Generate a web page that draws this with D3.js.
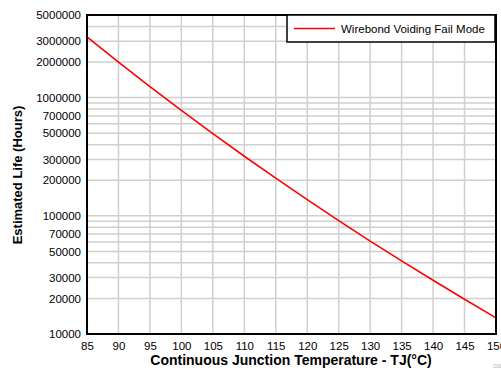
<!DOCTYPE html>
<html>
<head>
<meta charset="utf-8">
<script src="https://cdn.jsdelivr.net/npm/d3@7"></script>
<style>
  html, body { margin: 0; padding: 0; background: #fff; }
  svg { display: block; font-family: "Liberation Sans", Arial, Helvetica, sans-serif; }
</style>
</head>
<body>
<svg id="chart" width="501" height="370"></svg>
<script>
// Junction temperature (°C) and estimated life (hours)
const temperatures = [85, 90, 95, 100, 105, 110, 115, 120, 125, 130, 135, 140, 145, 150];
const lifeHours = [3260000, 2000000, 1240000, 780000, 496000, 319000, 208000, 137000, 91000, 61000, 41600, 28500, 19700, 13700];
const xTicks = [85, 90, 95, 100, 105, 110, 115, 120, 125, 130, 135, 140, 145, 150];
const yTickLabels = [10000, 20000, 30000, 50000, 70000, 100000, 200000, 300000, 500000, 700000, 1000000, 2000000, 3000000, 5000000];
const seriesName = "Wirebond Voiding Fail Mode";

const svg = d3.select("#chart");
const m = { left: 87, top: 15, right: 496, bottom: 334 };

const x = d3.scaleLinear().domain([85, 150]).range([m.left, m.right]);
const y = d3.scaleLog().domain([10000, 5000000]).range([m.bottom, m.top]);

// log gridlines: 1..9 within each decade, below the top of the domain
const gridY = [];
for (let d = 10000; d < 5000000; d *= 10) {
  for (let k = 1; k <= 9; k++) {
    const v = d * k;
    if (v > 10000 && v < 5000000) gridY.push(v);
  }
}

const grid = svg.append("g").attr("stroke", "#d0d0d0").attr("stroke-width", 1.5);
grid.selectAll("line.h").data(gridY).enter().append("line")
  .attr("x1", m.left).attr("x2", m.right)
  .attr("y1", d => y(d)).attr("y2", d => y(d));
grid.selectAll("line.v").data(xTicks.slice(1, -1)).enter().append("line")
  .attr("y1", m.top).attr("y2", m.bottom)
  .attr("x1", d => x(d)).attr("x2", d => x(d));

// life curve
const line = d3.line().x((d, i) => x(temperatures[i])).y(d => y(d));
svg.append("path").datum(lifeHours)
  .attr("d", line)
  .attr("fill", "none")
  .attr("stroke", "#ff0000")
  .attr("stroke-width", 1.6);

// plot frame
svg.append("rect")
  .attr("x", m.left).attr("y", m.top)
  .attr("width", m.right - m.left).attr("height", m.bottom - m.top)
  .attr("fill", "none").attr("stroke", "#000").attr("stroke-width", 2);

// axes (labels only, frame drawn above)
const xAxis = d3.axisBottom(x).tickValues(xTicks).tickSize(0).tickPadding(8).tickFormat(d3.format("d"));
const gx = svg.append("g").attr("transform", `translate(0,${m.bottom})`).call(xAxis);
gx.select(".domain").remove();
gx.selectAll("text").attr("font-size", 11.5).attr("fill", "#000").attr("font-family", "Liberation Sans, Arial, sans-serif");

const yAxis = d3.axisLeft(y).tickValues(yTickLabels).tickSize(0).tickPadding(6).tickFormat(d3.format("d"));
const gy = svg.append("g").attr("transform", `translate(${m.left},0)`).call(yAxis);
gy.select(".domain").remove();
gy.selectAll("text").attr("font-size", 11.5).attr("fill", "#000").attr("font-family", "Liberation Sans, Arial, sans-serif");

// axis titles
svg.append("text")
  .attr("x", 291).attr("y", 365)
  .attr("text-anchor", "middle")
  .attr("font-size", 14).attr("font-weight", "bold")
  .text("Continuous Junction Temperature - TJ(°C)");

svg.append("text")
  .attr("transform", `translate(22,175) rotate(-90)`)
  .attr("text-anchor", "middle")
  .attr("font-size", 13).attr("font-weight", "bold")
  .text("Estimated Life (Hours)");

// legend
const lg = svg.append("g");
lg.append("rect")
  .attr("x", 287).attr("y", 15).attr("width", 208).attr("height", 27)
  .attr("fill", "#fff").attr("stroke", "#000").attr("stroke-width", 1.5);
lg.append("line")
  .attr("x1", 294).attr("x2", 335).attr("y1", 28.5).attr("y2", 28.5)
  .attr("stroke", "#ff0000").attr("stroke-width", 1.6);
lg.append("text")
  .attr("x", 341).attr("y", 32.5)
  .attr("font-size", 11.5).attr("fill", "#000")
  .text(seriesName);

// graph id
svg.append("text")
  .attr("x", 493).attr("y", 368)
  .attr("font-size", 5).attr("fill", "#aaa")
  .text("G001");
</script>
</body>
</html>
